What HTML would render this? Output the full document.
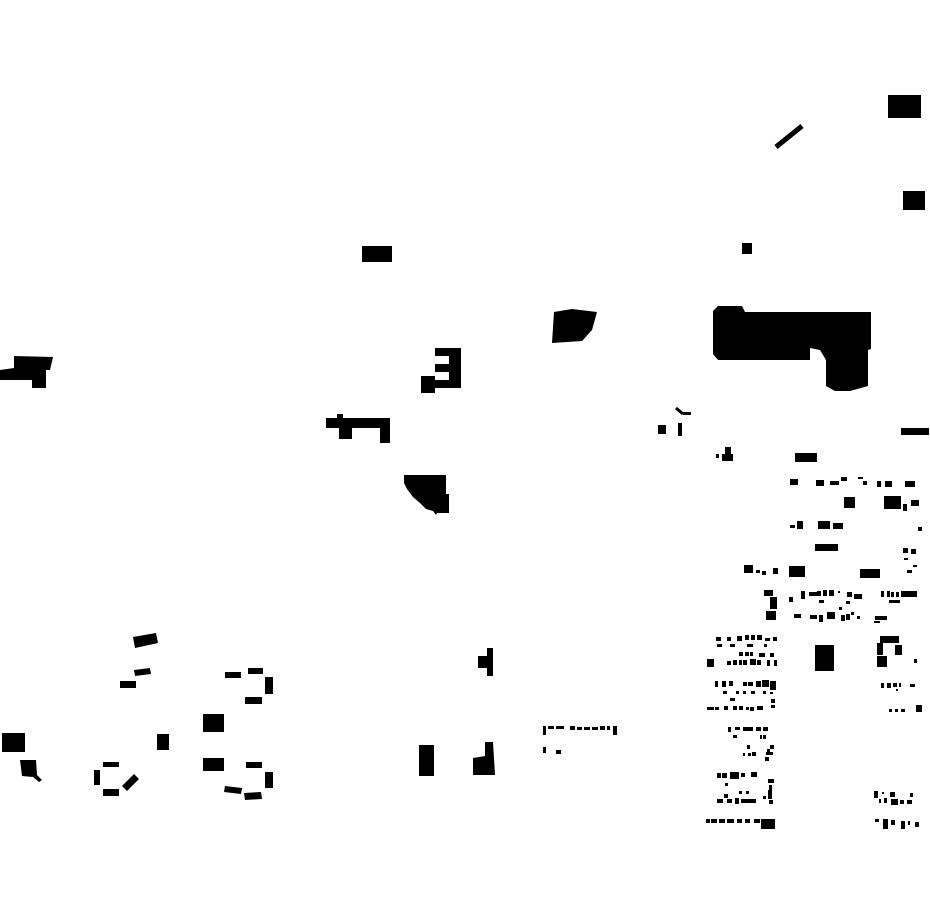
<!DOCTYPE html>
<html><head><meta charset="utf-8"><style>html,body{margin:0;padding:0;background:#fff}svg{display:block}</style></head>
<body>
<svg width="930" height="924" viewBox="0 0 930 924" xmlns="http://www.w3.org/2000/svg">
<g fill="#000">
<rect x="888" y="95" width="33" height="23"/>
<line x1="776" y1="147" x2="802" y2="126" stroke="#000" stroke-width="5"/>
<rect x="903" y="191" width="22" height="19"/>
<rect x="742" y="243" width="10" height="11"/>
<polygon points="718,306 742,306 745,312 871,312 871,349 868,350 868,386 850,391 835,391 826,386 826,360 820,350 810,348 810,360 718,360 713,354 713,311"/>
<polygon points="554,312 572,309 597,312 592,330 582,341 552,343"/>
<rect x="362" y="246" width="30" height="16"/>
<polygon points="14,356 53,357 50,370 46,370 46,388 32,388 32,380 0,380 0,370 14,368"/>
<path d="M435,348H461V388H435V380H449V372H435V364H449V356H435Z"/>
<rect x="421" y="376" width="14" height="17"/>
<rect x="326" y="418" width="64" height="10"/>
<rect x="337" y="414" width="6" height="5"/>
<rect x="339" y="428" width="13" height="11"/>
<rect x="380" y="428" width="10" height="15"/>
<polygon points="404,475 446,475 446,494 449,494 449,513 437,513 436,515 433,511 426,509 420,503 413,497 407,489 404,483"/>
<rect x="658" y="425" width="8" height="9"/>
<rect x="678" y="423" width="4" height="13"/>
<line x1="676" y1="408" x2="683" y2="414" stroke="#000" stroke-width="3"/>
<rect x="683" y="412" width="8" height="3"/>
<rect x="901" y="428" width="28" height="7"/>
<!-- right cluster -->
<rect x="722" y="454" width="11" height="7"/><rect x="725" y="447" width="6" height="8"/><rect x="716" y="454" width="3" height="4"/>
<rect x="795" y="453" width="22" height="9"/>
<rect x="790" y="479" width="8" height="6"/><rect x="816" y="480" width="8" height="6"/><rect x="830" y="481" width="9" height="4"/><rect x="841" y="477" width="6" height="4"/>
<rect x="858" y="477" width="5" height="2"/><rect x="863" y="481" width="4" height="4"/><rect x="877" y="481" width="4" height="6"/><rect x="885" y="481" width="7" height="6"/><rect x="905" y="481" width="10" height="6"/>
<rect x="844" y="497" width="11" height="11"/><rect x="884" y="496" width="17" height="13"/><rect x="903" y="504" width="4" height="7"/><rect x="911" y="500" width="8" height="6"/>
<rect x="790" y="525" width="5" height="3"/><rect x="797" y="521" width="6" height="8"/><rect x="818" y="521" width="12" height="8"/><rect x="833" y="523" width="10" height="6"/><rect x="918" y="527" width="4" height="4"/>
<rect x="815" y="544" width="23" height="7"/>
<rect x="903" y="548" width="5" height="5"/><rect x="911" y="549" width="5" height="5"/><rect x="904" y="558" width="4" height="2"/><rect x="913" y="565" width="4" height="2"/><rect x="907" y="570" width="5" height="3"/>
<rect x="744" y="565" width="9" height="8"/><rect x="756" y="570" width="4" height="3"/><rect x="762" y="571" width="4" height="4"/><rect x="773" y="568" width="5" height="6"/>
<rect x="789" y="566" width="16" height="11"/><rect x="860" y="569" width="20" height="9"/>
<rect x="764" y="590" width="9" height="6"/><rect x="770" y="597" width="7" height="12"/><rect x="766" y="611" width="10" height="9"/>
<rect x="789" y="597" width="4" height="5"/><rect x="801" y="591" width="4" height="8"/><rect x="809" y="592" width="8" height="4"/><rect x="817" y="591" width="4" height="5"/><rect x="823" y="590" width="4" height="6"/><rect x="829" y="590" width="5" height="6"/><rect x="838" y="591" width="2" height="2"/><rect x="847" y="592" width="5" height="5"/><rect x="854" y="594" width="8" height="5"/><rect x="819" y="600" width="5" height="3"/><rect x="846" y="601" width="4" height="3"/>
<rect x="881" y="591" width="3" height="6"/><rect x="887" y="591" width="3" height="6"/><rect x="891" y="592" width="3" height="5"/><rect x="896" y="592" width="3" height="5"/><rect x="901" y="591" width="16" height="6"/><rect x="889" y="600" width="11" height="3"/>
<rect x="794" y="614" width="7" height="4"/><rect x="810" y="615" width="7" height="4"/><rect x="819" y="615" width="4" height="7"/><rect x="827" y="612" width="8" height="7"/><rect x="839" y="607" width="3" height="3"/><rect x="841" y="615" width="4" height="6"/><rect x="846" y="614" width="4" height="6"/><rect x="851" y="612" width="3" height="3"/><rect x="857" y="616" width="3" height="3"/>
<rect x="875" y="616" width="12" height="4"/><rect x="874" y="621" width="6" height="2"/>
<rect x="880" y="636" width="19" height="7"/><rect x="877" y="643" width="6" height="12"/><rect x="895" y="645" width="7" height="10"/><rect x="877" y="656" width="10" height="11"/><rect x="914" y="659" width="3" height="4"/>
<rect x="815" y="645" width="19" height="26"/>
<rect x="716" y="637" width="5" height="4"/><rect x="727" y="637" width="4" height="4"/><rect x="737" y="636" width="5" height="5"/><rect x="745" y="635" width="4" height="5"/><rect x="751" y="635" width="4" height="5"/><rect x="757" y="635" width="5" height="5"/><rect x="765" y="638" width="5" height="3"/><rect x="773" y="637" width="4" height="4"/>
<rect x="717" y="644" width="5" height="3"/><rect x="730" y="644" width="5" height="3"/><rect x="747" y="644" width="6" height="3"/><rect x="764" y="644" width="3" height="3"/>
<rect x="739" y="652" width="4" height="4"/><rect x="745" y="652" width="4" height="4"/><rect x="750" y="652" width="3" height="4"/><rect x="759" y="653" width="3" height="4"/><rect x="762" y="653" width="3" height="4"/><rect x="770" y="653" width="4" height="4"/>
<rect x="707" y="659" width="7" height="8"/><rect x="727" y="661" width="4" height="4"/><rect x="733" y="660" width="4" height="5"/><rect x="739" y="660" width="3" height="5"/><rect x="743" y="660" width="4" height="5"/><rect x="750" y="659" width="6" height="6"/><rect x="757" y="660" width="4" height="5"/><rect x="767" y="660" width="3" height="6"/><rect x="774" y="660" width="3" height="6"/>
<rect x="715" y="681" width="3" height="6"/><rect x="722" y="681" width="4" height="6"/><rect x="729" y="681" width="4" height="5"/><rect x="743" y="682" width="4" height="4"/><rect x="748" y="682" width="5" height="4"/><rect x="756" y="681" width="5" height="6"/><rect x="762" y="680" width="7" height="7"/><rect x="770" y="681" width="6" height="9"/>
<rect x="723" y="691" width="4" height="3"/><rect x="736" y="691" width="3" height="3"/><rect x="743" y="691" width="3" height="3"/><rect x="751" y="691" width="4" height="3"/><rect x="763" y="691" width="3" height="3"/><rect x="770" y="692" width="3" height="2"/>
<rect x="730" y="698" width="5" height="3"/><rect x="771" y="699" width="4" height="4"/>
<rect x="707" y="707" width="7" height="3"/><rect x="715" y="707" width="4" height="3"/><rect x="724" y="706" width="4" height="4"/><rect x="733" y="706" width="4" height="4"/><rect x="739" y="706" width="4" height="4"/><rect x="746" y="707" width="3" height="3"/><rect x="750" y="707" width="4" height="4"/><rect x="757" y="706" width="6" height="4"/><rect x="771" y="705" width="4" height="3"/>
<rect x="881" y="683" width="3" height="5"/><rect x="887" y="683" width="4" height="5"/><rect x="893" y="683" width="4" height="4"/><rect x="899" y="683" width="2" height="4"/><rect x="896" y="689" width="2" height="2"/><rect x="910" y="684" width="5" height="3"/>
<rect x="889" y="709" width="3" height="3"/><rect x="895" y="709" width="3" height="3"/><rect x="901" y="709" width="4" height="3"/><rect x="916" y="705" width="6" height="7"/>
<rect x="728" y="727" width="3" height="5"/><rect x="735" y="727" width="5" height="3"/><rect x="743" y="727" width="10" height="4"/><rect x="756" y="727" width="5" height="4"/><rect x="763" y="727" width="5" height="4"/>
<rect x="733" y="735" width="4" height="3"/><rect x="760" y="735" width="2" height="4"/><rect x="763" y="735" width="3" height="4"/>
<rect x="747" y="745" width="3" height="4"/><rect x="770" y="745" width="4" height="4"/><rect x="767" y="749" width="3" height="3"/><rect x="766" y="752" width="7" height="3"/><rect x="743" y="753" width="2" height="3"/><rect x="748" y="753" width="3" height="3"/><rect x="752" y="752" width="4" height="4"/><rect x="765" y="757" width="4" height="4"/>
<rect x="717" y="773" width="4" height="5"/><rect x="722" y="773" width="5" height="5"/><rect x="730" y="772" width="9" height="7"/><rect x="741" y="773" width="4" height="4"/><rect x="751" y="772" width="6" height="5"/>
<rect x="768" y="779" width="6" height="4"/><rect x="725" y="783" width="3" height="3"/><rect x="769" y="785" width="3" height="5"/><rect x="724" y="794" width="4" height="4"/><rect x="739" y="791" width="3" height="3"/><rect x="746" y="791" width="3" height="3"/><rect x="763" y="796" width="3" height="3"/><rect x="768" y="790" width="4" height="9"/>
<rect x="717" y="799" width="6" height="4"/><rect x="727" y="799" width="5" height="4"/><rect x="735" y="798" width="4" height="6"/><rect x="741" y="799" width="15" height="4"/><rect x="769" y="800" width="4" height="4"/>
<rect x="706" y="819" width="4" height="4"/><rect x="711" y="819" width="6" height="4"/><rect x="719" y="819" width="6" height="4"/><rect x="727" y="819" width="7" height="4"/><rect x="737" y="819" width="5" height="4"/><rect x="745" y="819" width="5" height="4"/><rect x="754" y="819" width="6" height="4"/><rect x="761" y="819" width="14" height="10"/>
<rect x="874" y="791" width="4" height="7"/><rect x="882" y="792" width="2" height="2"/><rect x="890" y="792" width="5" height="5"/><rect x="910" y="793" width="3" height="4"/><rect x="879" y="799" width="2" height="4"/><rect x="884" y="798" width="3" height="5"/><rect x="891" y="799" width="7" height="6"/><rect x="900" y="800" width="4" height="4"/><rect x="907" y="800" width="5" height="4"/>
<rect x="875" y="819" width="4" height="3"/><rect x="883" y="819" width="5" height="10"/><rect x="891" y="820" width="4" height="5"/><rect x="901" y="821" width="4" height="8"/><rect x="908" y="821" width="2" height="4"/><rect x="915" y="822" width="4" height="5"/>
<!-- middle bottom -->
<polygon points="487,648 493,648 493,676 487,676 487,668 478,668 478,656 487,656"/>
<rect x="419" y="745" width="15" height="31"/>
<polygon points="485,742 493,742 495,775 473,775 473,758 485,756"/>
<rect x="543" y="726" width="3" height="9"/><rect x="548" y="726" width="6" height="3"/><rect x="556" y="726" width="8" height="3"/><rect x="570" y="726" width="5" height="4"/><rect x="577" y="727" width="5" height="3"/><rect x="584" y="727" width="6" height="3"/><rect x="592" y="727" width="6" height="3"/><rect x="600" y="726" width="5" height="4"/><rect x="607" y="726" width="3" height="4"/><rect x="613" y="726" width="4" height="9"/>
<rect x="543" y="747" width="3" height="6"/><rect x="556" y="750" width="5" height="4"/>
<!-- bottom left -->
<polygon points="133,637 156,633 158,643 135,648"/>
<polygon points="134,670 150,668 151,674 135,676"/>
<rect x="120" y="681" width="16" height="7"/>
<rect x="225" y="672" width="16" height="6"/><rect x="248" y="668" width="15" height="6"/><rect x="265" y="677" width="8" height="17"/><rect x="245" y="697" width="17" height="7"/>
<rect x="203" y="714" width="21" height="18"/>
<rect x="157" y="734" width="12" height="16"/>
<rect x="2" y="733" width="23" height="19"/>
<polygon points="20,760 36,760 37,775 42,780 39,782 33,777 22,776"/>
<rect x="103" y="762" width="16" height="5"/><rect x="94" y="770" width="6" height="15"/><rect x="103" y="789" width="16" height="7"/>
<polygon points="122,786 134,774 139,779 127,791"/>
<rect x="203" y="758" width="21" height="13"/>
<rect x="246" y="762" width="16" height="6"/><rect x="265" y="772" width="8" height="16"/>
<polygon points="225,786 242,788 241,794 224,792"/>
<polygon points="244,793 261,792 262,799 245,800"/>
</g>
</svg>
</body></html>
